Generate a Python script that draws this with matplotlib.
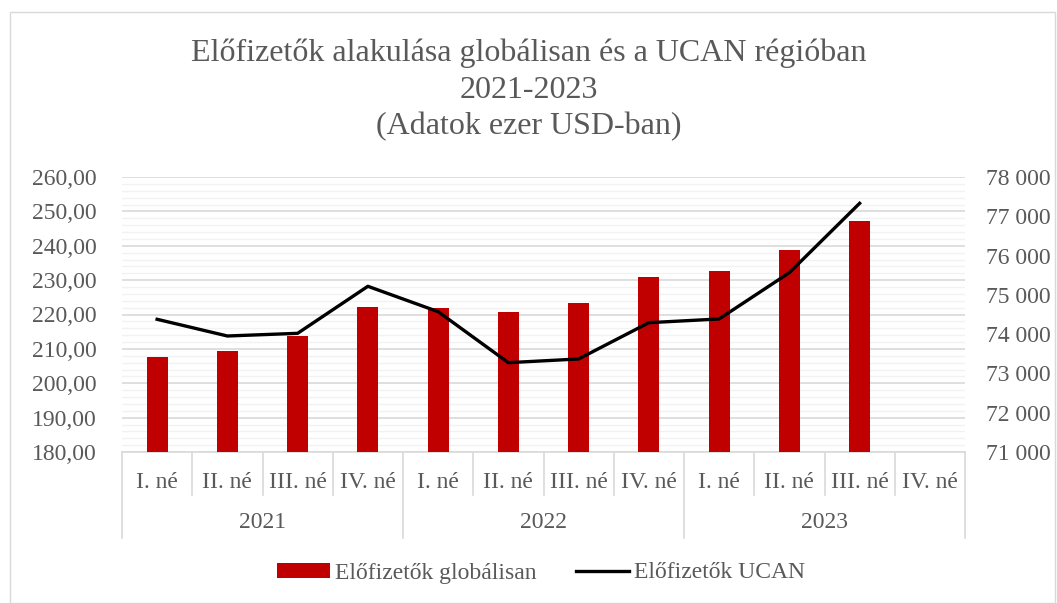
import matplotlib
matplotlib.use("Agg")
import matplotlib.pyplot as plt
import numpy as np
from matplotlib.lines import Line2D
from matplotlib.patches import Patch, Rectangle
from matplotlib.ticker import MultipleLocator, FuncFormatter

plt.rcParams['font.family'] = ['Liberation Serif', 'DejaVu Serif']

quarters = ["I. né", "II. né", "III. né", "IV. né"] * 3
years = ["2021", "2022", "2023"]
global_subs = [207.7, 209.4, 213.8, 222.1, 221.9, 220.8, 223.3, 230.9, 232.7, 238.7, 247.3, np.nan]
ucan_subs = [74378, 73953, 74021, 75218, 74572, 73274, 73368, 74292, 74386, 75565, 77330, np.nan]

title = "Előfizetők alakulása globálisan és a UCAN régióban\n2021-2023\n(Adatok ezer USD-ban)"
txt = "#595959"
FS = 17
W, H = 1057, 603
fig = plt.figure(figsize=(W / 100, H / 100), dpi=100)

# chart border
fig.add_artist(Rectangle((10 / W, 0), (W - 12) / W, (H - 12) / H, transform=fig.transFigure,
                         fill=False, edgecolor="#d9d9d9", linewidth=1))

x0, x1, y0, y1 = 122, 965, 177, 452
ax = fig.add_axes([x0 / W, (H - y1) / H, (x1 - x0) / W, (y1 - y0) / H])
n = len(quarters)
x = np.arange(n)
ax.bar(x, global_subs, width=0.3, color="#c00000", zorder=3)
ax.set_xlim(-0.5, n - 0.5)
ax.set_ylim(180, 260)
ax.yaxis.set_major_locator(MultipleLocator(10))
ax.yaxis.set_minor_locator(MultipleLocator(2))
ax.grid(which="major", axis="y", color="#d9d9d9", linewidth=1.2, zorder=0)
ax.grid(which="minor", axis="y", color="#f2f2f2", linewidth=1.0, zorder=0)
ax.yaxis.set_major_formatter(FuncFormatter(lambda v, p: f"{v:.2f}".replace(".", ",")))
ax.tick_params(axis="y", which="both", length=0, labelsize=FS, labelcolor=txt, pad=18)
ax.set_xticks([])
for s in ["top", "left", "right"]:
    ax.spines[s].set_visible(False)
ax.spines["bottom"].set_color("#d9d9d9")
ax.spines["bottom"].set_linewidth(1.2)

ax2 = ax.twinx()
ax2.plot(x, ucan_subs, color="black", linewidth=2.4, zorder=4)
ax2.set_ylim(71000, 78000)
ax2.yaxis.set_major_locator(MultipleLocator(1000))
ax2.yaxis.set_major_formatter(FuncFormatter(lambda v, p: f"{int(v):,}".replace(",", " ")))
ax2.tick_params(axis="y", length=0, labelsize=FS, labelcolor=txt, pad=15)
for s in ["top", "left", "right", "bottom"]:
    ax2.spines[s].set_visible(False)

# multi-level category axis
tr = ax.get_xaxis_transform()
lc = "#d9d9d9"
for i, q in enumerate(quarters):
    ax.text(i, -30 / (y1 - y0), q, transform=tr, ha="center", va="center", fontsize=FS, color=txt)
for i in range(n + 1):
    xb = i - 0.5
    long = (i % 4 == 0)
    ax.add_line(Line2D([xb, xb], [0, -(86 if long else 43) / (y1 - y0)], transform=tr,
                       color=lc, linewidth=1.2, clip_on=False))
for j, yr in enumerate(years):
    ax.text(j * 4 + 1.5, -70 / (y1 - y0), yr, transform=tr, ha="center", va="center",
            fontsize=FS, color=txt)

fig.text(0.5, (H - 90) / H, title, ha="center", va="center", fontsize=23, color=txt,
         linespacing=1.33)

handles = [Patch(facecolor="#c00000", label="Előfizetők globálisan"),
           Line2D([0], [0], color="black", linewidth=2.4, label="Előfizetők UCAN")]
fig.legend(handles=handles, loc="center", bbox_to_anchor=(541 / W, (H - 573) / H), ncol=2,
           frameon=False, fontsize=FS, labelcolor=txt, handlelength=2.25, handleheight=0.6,
           handletextpad=0.2, columnspacing=1.7)

fig.savefig("out.png", dpi=100)
